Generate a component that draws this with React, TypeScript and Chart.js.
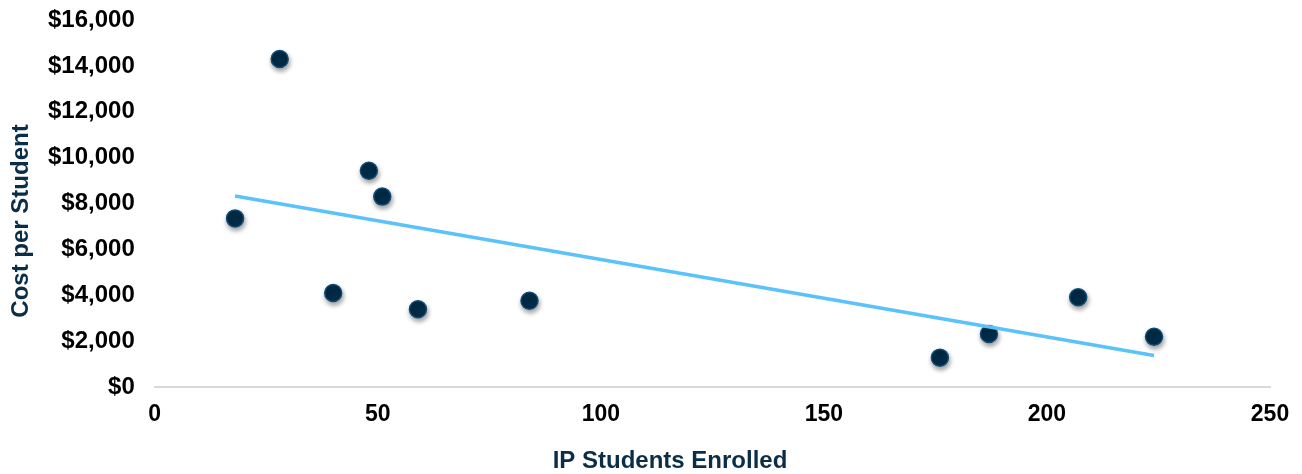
import { useEffect, useRef } from 'react';
import { Chart, registerables } from 'chart.js';

Chart.register(...registerables);

// IP students enrolled (x) and cost per student (y) for each program
const enrolled = [18, 28, 40, 48, 51, 59, 84, 176, 187, 207, 224];
const costPerStudent = [7350, 14300, 4100, 9430, 8300, 3390, 3760, 1280, 2310, 3910, 2190];

// Linear trend line end points
const trendEnrolled = [18, 224];
const trendCost = [8330, 1370];

const xTitle = 'IP Students Enrolled';
const yTitle = 'Cost per Student';

const FONT = "'Liberation Sans', Arial, Helvetica, sans-serif";

const shadowPlugin = {
  id: 'pointShadow',
  beforeDatasetDraw(chart: any, args: any) {
    if (args.index === 0) {
      const ctx = chart.ctx;
      ctx.save();
      ctx.shadowColor = 'rgba(0,0,0,0.38)';
      ctx.shadowBlur = 5;
      ctx.shadowOffsetX = 1;
      ctx.shadowOffsetY = 3;
    }
  },
  afterDatasetDraw(chart: any, args: any) {
    if (args.index === 0) chart.ctx.restore();
  },
};

// Axis titles placed like the original (offset from the plot centre)
const axisTitlePlugin = {
  id: 'axisTitles',
  afterDraw(chart: any, _args: any, opts: any) {
    const ctx = chart.ctx;
    ctx.save();
    ctx.font = opts.font;
    ctx.fillStyle = opts.color;
    ctx.textAlign = 'center';
    ctx.textBaseline = 'middle';
    ctx.fillText(opts.xText, opts.xPos[0], opts.xPos[1]);
    ctx.translate(opts.yPos[0], opts.yPos[1]);
    ctx.rotate(-Math.PI / 2);
    ctx.fillText(opts.yText, 0, 0);
    ctx.restore();
  },
};

export default function App() {
  const ref = useRef<HTMLCanvasElement | null>(null);

  useEffect(() => {
    if (!ref.current) return;
    const chart = new Chart(ref.current, {
      type: 'scatter',
      data: {
        datasets: [
          {
            label: 'Programs',
            data: enrolled.map((x, i) => ({ x, y: costPerStudent[i] })),
            backgroundColor: '#012B46',
            borderColor: '#0E4C78',
            borderWidth: 1.5,
            pointRadius: 8.5,
            pointHoverRadius: 8.5,
            order: 1,
          },
          {
            type: 'line',
            label: 'Trend',
            data: trendEnrolled.map((x, i) => ({ x, y: trendCost[i] })),
            borderColor: '#5BC2FA',
            borderWidth: 3.5,
            pointRadius: 0,
            showLine: true,
            fill: false,
            order: 0,
          } as any,
        ],
      },
      options: {
        animation: false,
        responsive: false,
        layout: { padding: { top: 20, right: 32, bottom: 40.4, left: 43 } },
        plugins: {
          legend: { display: false },
          tooltip: { enabled: false },
          axisTitles: {
            xText: xTitle,
            yText: yTitle,
            xPos: [670, 461],
            yPos: [21.4, 221],
            color: '#0B2E48',
            font: `bold 24px ${FONT}`,
          },
        } as any,
        scales: {
          x: {
            type: 'linear',
            min: 0,
            max: 250,
            ticks: {
              stepSize: 50,
              color: '#000000',
              padding: 5,
              font: { family: FONT, size: 23, weight: 'bold' },
            },
            grid: { display: false, drawTicks: true, tickLength: 9 },
            border: { display: true, color: '#D9D9D9', width: 2 },
            title: { display: false, text: xTitle },
          },
          y: {
            type: 'linear',
            min: 0,
            max: 16000,
            ticks: {
              stepSize: 2000,
              color: '#000000',
              padding: 5,
              font: { family: FONT, size: 24, weight: 'bold' },
              callback: (v: any) => '$' + Number(v).toLocaleString('en-US'),
            },
            grid: { display: false, drawTicks: true, tickLength: 15 },
            border: { display: false },
            title: { display: false, text: yTitle },
          },
        },
      },
      plugins: [shadowPlugin, axisTitlePlugin],
    });
    return () => chart.destroy();
  }, []);

  return (
    <div style={{ position: 'absolute', left: 0, top: 0, width: 1302, height: 474, background: '#ffffff' }}>
      <canvas ref={ref} width={1302} height={474} style={{ display: 'block' }} />
    </div>
  );
}
